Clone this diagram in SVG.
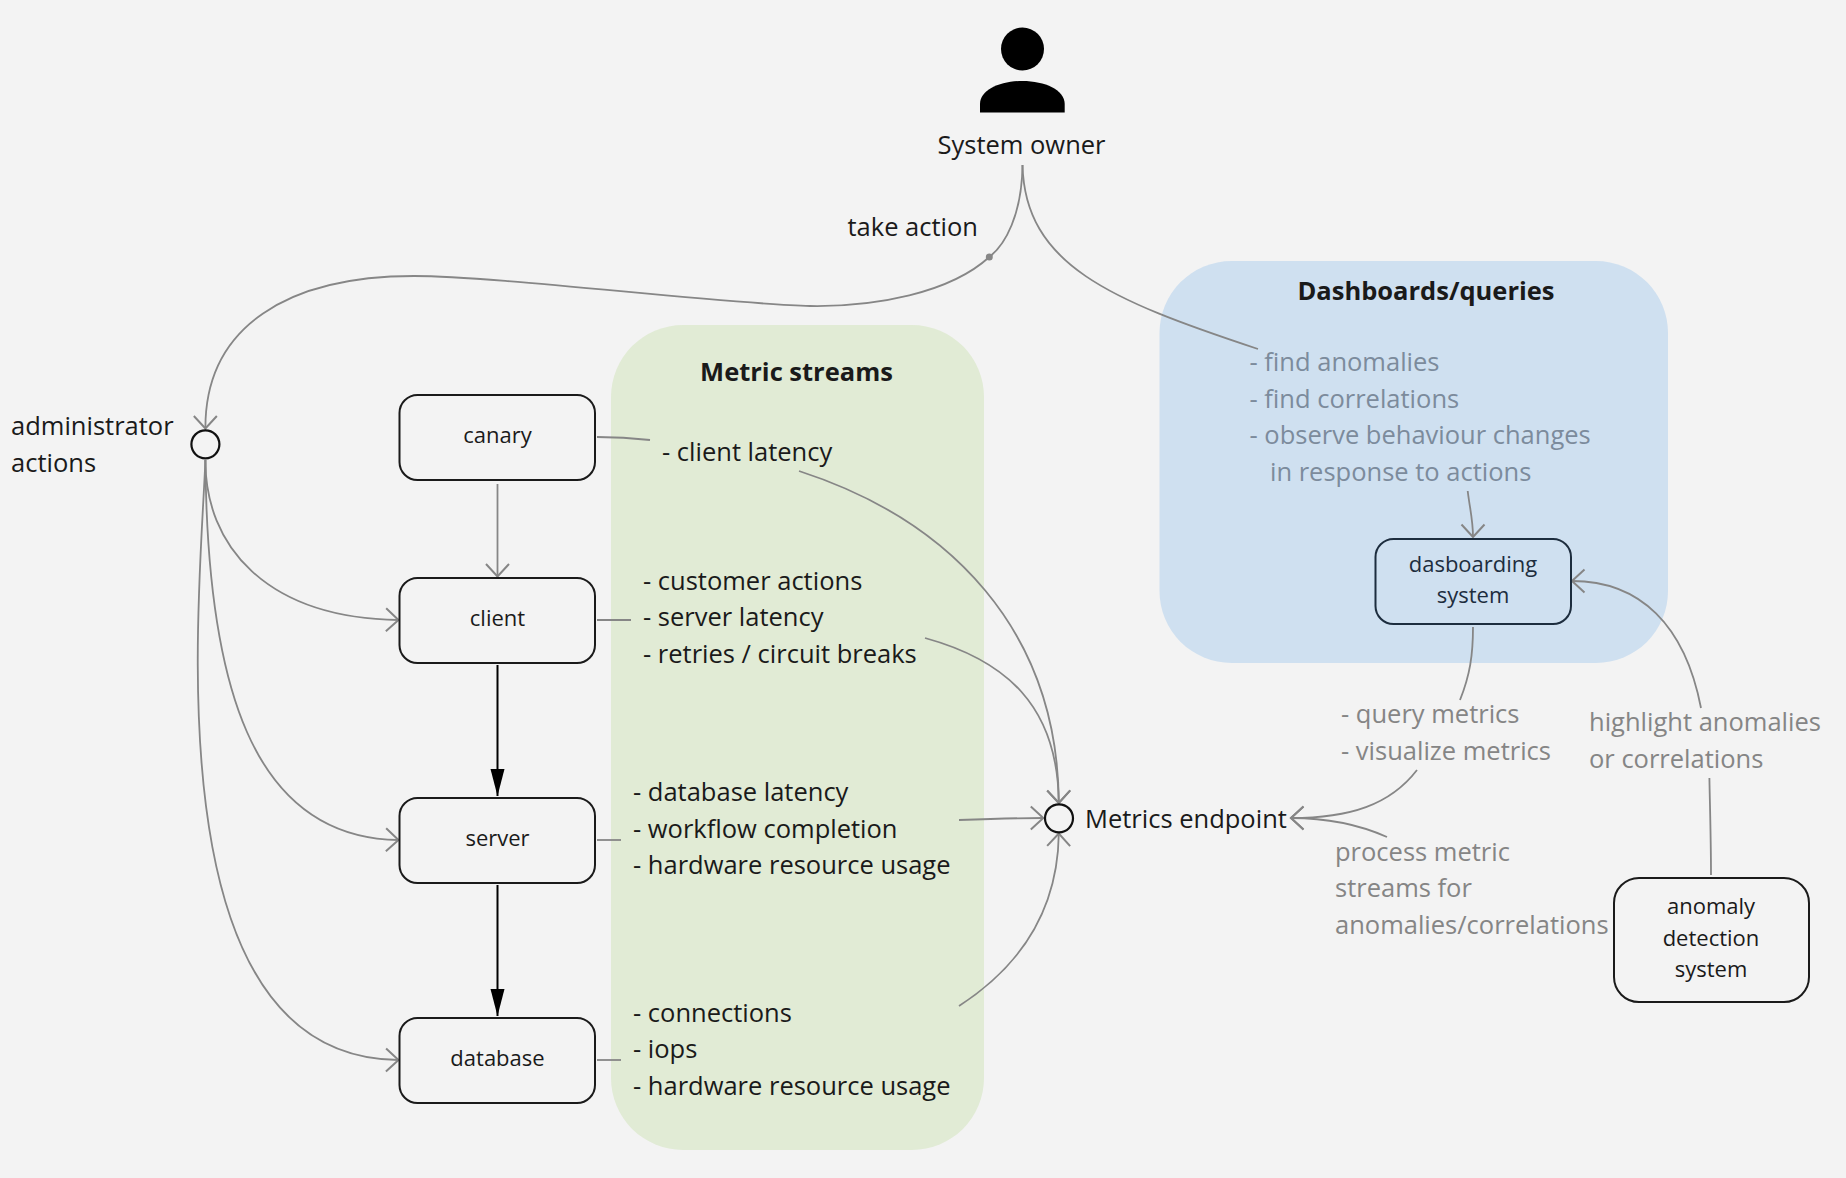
<svg xmlns="http://www.w3.org/2000/svg" width="1846" height="1178" viewBox="0 0 1846 1178">
<style>
text{font-family:"Open Sans","Noto Sans",sans-serif;font-size:25.500px;fill:#1a1a1a}
.c{text-anchor:middle}
.n{font-size:22px}
.b{font-weight:700}
.g{fill:#858585}
.gb{fill:#7c8b9c}
.box{fill:none;stroke:#1a1a1a;stroke-width:2}
.circ{fill:none;stroke:#111;stroke-width:2.200}
.l{fill:none;stroke:#868686;stroke-width:1.800}
.k{fill:none;stroke:#000;stroke-width:2}
</style>
<defs>
<marker id="open" markerUnits="userSpaceOnUse" markerWidth="30" markerHeight="30" refX="14" refY="14" orient="auto" viewBox="0 0 30 30">
<path d="M1.500 2.500L14 14L1.500 25.500" fill="none" stroke="#868686" stroke-width="2"/>
</marker>
<marker id="solid" markerUnits="userSpaceOnUse" markerWidth="30" markerHeight="20" refX="27" refY="10" orient="auto" viewBox="0 0 30 20">
<path d="M0 3L27 10L0 17Z" fill="#000"/>
</marker>
</defs>
<rect width="1846" height="1178" fill="#f3f3f3"/>
<g id="metric-streams">
<rect x="611" y="325" width="373" height="825" rx="72" ry="72" fill="#e1ebd5"/>
<text class="c b" x="796.500" y="381">Metric streams</text>
<text x="662" y="461">- client latency</text>
<text x="643" y="590">- customer actions</text>
<text x="643" y="626">- server latency</text>
<text x="643" y="663">- retries / circuit breaks</text>
<text x="633" y="801">- database latency</text>
<text x="633" y="838">- workflow completion</text>
<text x="633" y="874">- hardware resource usage</text>
<text x="633" y="1022">- connections</text>
<text x="633" y="1058">- iops</text>
<text x="633" y="1095">- hardware resource usage</text>
</g>
<g id="dashboards-queries">
<rect x="1159.500" y="261" width="508.500" height="402" rx="72" ry="72" fill="#cfe0f0"/>
<text class="c b" x="1426" y="300">Dashboards/queries</text>
<text class="gb" x="1249.500" y="371">- find anomalies</text>
<text class="gb" x="1249.500" y="408">- find correlations</text>
<text class="gb" x="1249.500" y="444">- observe behaviour changes</text>
<text class="gb" x="1270" y="481">in response to actions</text>
</g>
<g id="connectors">
<path class="l" d="M1022.500 165C1022 215 1005 245 989.300 257C950 293 875 307 810 306C720 304 500 276 414 276C290 276 205 325 205.400 428.500" marker-end="url(#open)"/>
<path class="l" d="M1022.500 165C1025 265 1110 300 1258 349"/>
<path class="l" d="M205.400 460C205 545 265 618 398.500 620" marker-end="url(#open)"/>
<path class="l" d="M205.400 460C207 680 250 838 398.500 840" marker-end="url(#open)"/>
<path class="l" d="M205.400 460C200 600 150 1058 398.500 1060" marker-end="url(#open)"/>
<path class="l" d="M497.500 484V576.500" marker-end="url(#open)"/>
<path class="k" d="M497.500 665V796" marker-end="url(#solid)"/>
<path class="k" d="M497.500 885V1016" marker-end="url(#solid)"/>
<path class="l" d="M597 437C615 437 632 438 650 440"/>
<path class="l" d="M597 620H631"/>
<path class="l" d="M597 840H621"/>
<path class="l" d="M597 1060H621"/>
<path class="l" d="M799 471C950 520 1058 630 1058.800 803" marker-end="url(#open)"/>
<path class="l" d="M925 638C1005 660 1058 705 1058.800 803" marker-end="url(#open)"/>
<path class="l" d="M959 820C985 819 1015 818 1043.300 818" marker-end="url(#open)"/>
<path class="l" d="M959 1006C1030 960 1058 900 1058.800 833.500" marker-end="url(#open)"/>
<path class="l" d="M1417 770C1390 805 1350 818 1291 818" marker-end="url(#open)"/>
<path class="l" d="M1387 837C1360 825 1330 818 1291 818" marker-end="url(#open)"/>
<path class="l" d="M1473 627C1473 655 1470 675 1460 700"/>
<path class="l" d="M1711 875C1711 840 1710 810 1709.400 778"/>
<path class="l" d="M1701 708C1685 625 1640 581 1572 581" marker-end="url(#open)"/>
<path class="l" d="M1467.700 491C1470 510 1473 520 1473 537" marker-end="url(#open)"/>
<circle cx="989.300" cy="257" r="3.500" fill="#868686"/>
</g>
<g id="system-owner">
<ellipse cx="1022.500" cy="49" rx="21.500" ry="21.500" fill="#000"/>
<path d="M980 112.500V104C980 90 1000 81 1022.500 81C1045 81 1064.700 90 1064.700 104V112.500Z" fill="#000"/>
<text class="c" x="1021.500" y="154">System owner</text>
</g>
<g id="take-action"><text x="847.500" y="236">take action</text></g>
<g id="administrator-actions">
<circle class="circ" cx="205.400" cy="444.300" r="14"/>
<text x="11" y="435">administrator</text>
<text x="11" y="472">actions</text>
</g>
<g id="canary"><rect class="box" x="399.500" y="395" width="195.500" height="85" rx="18"/><text class="c n" x="497.500" y="443">canary</text></g>
<g id="client"><rect class="box" x="399.500" y="578" width="195.500" height="85" rx="18"/><text class="c n" x="497.500" y="626">client</text></g>
<g id="server"><rect class="box" x="399.500" y="798" width="195.500" height="85" rx="18"/><text class="c n" x="497.500" y="846">server</text></g>
<g id="database"><rect class="box" x="399.500" y="1018" width="195.500" height="85" rx="18"/><text class="c n" x="497.500" y="1066">database</text></g>
<g id="metrics-endpoint">
<circle class="circ" cx="1059" cy="818.300" r="14"/>
<text x="1085" y="828">Metrics endpoint</text>
</g>
<g id="dasboarding-system">
<rect x="1375.500" y="539" width="195.500" height="85" rx="18" fill="none" stroke="#1d2d3e" stroke-width="2"/>
<text class="c n" style="fill:#1d2d3e" x="1473" y="572">dasboarding</text>
<text class="c n" style="fill:#1d2d3e" x="1473" y="603">system</text>
</g>
<g id="anomaly-detection-system">
<rect class="box" x="1614" y="878" width="195" height="124" rx="25"/>
<text class="c n" x="1711" y="914">anomaly</text>
<text class="c n" x="1711" y="946">detection</text>
<text class="c n" x="1711" y="977">system</text>
</g>
<g id="connector-labels">
<text class="g" x="1341" y="723">- query metrics</text>
<text class="g" x="1341" y="760">- visualize metrics</text>
<text class="g" x="1589" y="731">highlight anomalies</text>
<text class="g" x="1589" y="768">or correlations</text>
<text class="g" x="1335" y="861">process metric</text>
<text class="g" x="1335" y="897">streams for</text>
<text class="g" x="1335" y="934">anomalies/correlations</text>
</g>
</svg>
